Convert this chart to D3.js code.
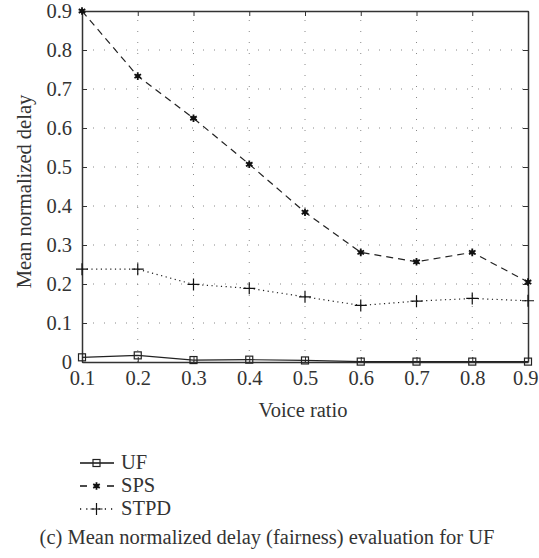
<!DOCTYPE html>
<html><head><meta charset="utf-8">
<script src="https://cdn.jsdelivr.net/npm/d3@7"></script>
<style>body{margin:0;background:#fff}svg{display:block}svg text{font-family:"Liberation Serif","DejaVu Serif",serif !important;}</style>
</head><body>
<script>
const voiceRatio = [0.1,0.2,0.3,0.4,0.5,0.6,0.7,0.8,0.9];
const uf   = [0.012,0.017,0.005,0.006,0.004,0.001,0.001,0.001,0.001];
const sps  = [0.9,0.733,0.625,0.507,0.384,0.281,0.257,0.281,0.205];
const stpd = [0.238,0.238,0.199,0.189,0.167,0.145,0.156,0.163,0.157];
const xTicks = [0.1,0.2,0.3,0.4,0.5,0.6,0.7,0.8,0.9];
const yTicks = [0,0.1,0.2,0.3,0.4,0.5,0.6,0.7,0.8,0.9];
const seriesNames = ["UF","SPS","STPD"];

const W=539,H=558;
const m={l:82,r:11,t:11,b:196};
const font='"Liberation Serif","DejaVu Serif",serif';
const svg=d3.select("body").append("svg").attr("width",W).attr("height",H).attr("font-family",font);
const fs=20.5;
const x=d3.scaleLinear().domain([0.1,0.9]).range([m.l,W-m.r]);
const y=d3.scaleLinear().domain([0,0.9]).range([H-m.b,m.t]);
const col="#333";

// grid
const g=svg.append("g");
g.selectAll(".gx").data(xTicks.slice(1,-1)).join("line")
 .attr("x1",d=>x(d)).attr("x2",d=>x(d)).attr("y1",y(0)).attr("y2",y(0.9))
 .attr("stroke","#888").attr("stroke-width",1).attr("stroke-dasharray","1,10");
g.selectAll(".gy").data(yTicks.slice(1,-1)).join("line")
 .attr("y1",d=>y(d)).attr("y2",d=>y(d)).attr("x1",x(0.1)).attr("x2",x(0.9))
 .attr("stroke","#888").attr("stroke-width",1).attr("stroke-dasharray","1,10");

// axes
const ax=d3.axisBottom(x).tickValues(xTicks).tickFormat(d3.format(".1f")).tickSizeInner(-5).tickSizeOuter(0).tickPadding(8);
const ay=d3.axisLeft(y).tickValues(yTicks).tickFormat(d=>d===0?"0":d3.format(".1f")(d)).tickSizeInner(-5).tickSizeOuter(0).tickPadding(10);
const axT=d3.axisTop(x).tickValues(xTicks).tickFormat("").tickSizeInner(-5).tickSizeOuter(0);
const axR=d3.axisRight(y).tickValues(yTicks).tickFormat("").tickSizeInner(-5).tickSizeOuter(0);
[[ax,`translate(0,${y(0)})`],[ay,`translate(${x(0.1)},0)`],[axT,`translate(0,${y(0.9)})`],[axR,`translate(${x(0.9)},0)`]].forEach(([a,t],k)=>{
  const gg=svg.append("g").attr("transform",t).call(a);
  gg.attr("font-family",font);
  gg.select(".domain").attr("stroke",col).attr("stroke-width",1.5);
  gg.selectAll(".tick line").attr("stroke",col);
  gg.selectAll("text").attr("font-family",font).attr("font-size",fs).attr("fill","#333");
  if(k===0){
    // keep the last x label inside the picture
    gg.selectAll(".tick text").filter(d=>d===0.9).attr("text-anchor","end").attr("x",W-1-x(0.9));
  }
});

// lines
const series=[
 {name:"UF",vals:uf,dash:null,marker:"square"},
 {name:"SPS",vals:sps,dash:"7,5",marker:"star"},
 {name:"STPD",vals:stpd,dash:"1.2,3.5",marker:"plus"}
];
const line=d3.line().x((d,i)=>x(voiceRatio[i])).y(d=>y(d));
function drawMarker(sel,type,cx,cy){
  if(type==="square"){
    sel.append("rect").attr("x",cx-3.5).attr("y",cy-3.5).attr("width",7).attr("height",7)
      .attr("fill","none").attr("stroke","#222").attr("stroke-width",1.2);
  } else if(type==="star"){
    sel.append("path").attr("d",d3.symbol(d3.symbolAsterisk,40)()).attr("transform",`translate(${cx},${cy})`).attr("stroke","#111").attr("stroke-width",1.8).attr("fill","none");
    sel.append("circle").attr("cx",cx).attr("cy",cy).attr("r",2.2).attr("fill","#111");
  } else {
    sel.append("path").attr("d",`M${cx-6},${cy}H${cx+6}M${cx},${cy-6}V${cy+6}`).attr("stroke","#111").attr("stroke-width",1.2);
  }
}
series.forEach(s=>{
  svg.append("path").datum(s.vals).attr("d",line).attr("fill","none")
   .attr("stroke","#222").attr("stroke-width",1.2).attr("stroke-dasharray",s.dash);
  const mg=svg.append("g");
  s.vals.forEach((v,i)=>drawMarker(mg,s.marker,x(voiceRatio[i]),y(v)));
});

// labels
svg.append("text").attr("x",x(0.5)-2).attr("y",417).attr("text-anchor","middle")
 .attr("font-family",font).attr("font-size",fs).attr("fill","#333").text("Voice ratio");
svg.append("text").attr("transform",`translate(31,${(y(0)+y(0.9))/2+5}) rotate(-90)`).attr("text-anchor","middle")
 .attr("font-family",font).attr("font-size",fs).attr("fill","#333").text("Mean normalized delay");

// legend
const lg=svg.append("g");
series.forEach((s,i)=>{
  const ly=463+i*23;
  lg.append("line").attr("x1",80).attr("x2",114).attr("y1",ly).attr("y2",ly)
    .attr("stroke","#111").attr("stroke-width",1.3).attr("stroke-dasharray",s.marker==="star"?"7,20":(s.dash?"1.2,5":null));
  drawMarker(lg,s.marker,96.5,ly);
  lg.append("text").attr("x",121).attr("y",ly+6).attr("font-family",font).attr("font-size",fs).attr("fill","#333").text(seriesNames[i]);
});

svg.append("text").attr("x",267).attr("y",544).attr("text-anchor","middle")
 .attr("font-family",font).attr("font-size",fs).attr("fill","#333").text("(c) Mean normalized delay (fairness) evaluation for UF");
</script>
</body></html>
